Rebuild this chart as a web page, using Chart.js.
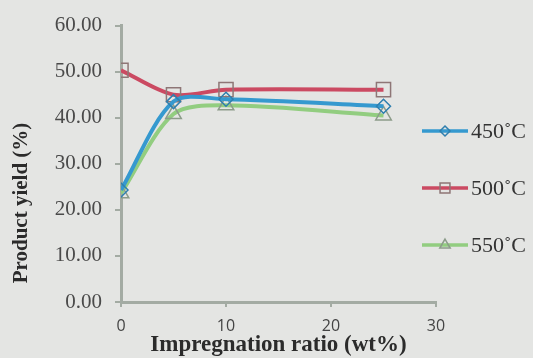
<!DOCTYPE html>
<html>
<head>
<meta charset="utf-8">
<script src="https://cdn.jsdelivr.net/npm/chart.js@4"></script>
<style>
  html, body { margin: 0; padding: 0; background: #e4e5e3; }
  #wrap { width: 533px; height: 358px; }
</style>
</head>
<body>
<div id="wrap"><canvas id="chart" width="533" height="358"></canvas></div>
<script>
// data
const ratios = [0, 5, 10, 25];
const seriesNames = ['450\u02DAC', '500\u02DAC', '550\u02DAC'];
const yield450 = [24.3, 43.5, 44.0, 42.5];
const yield500 = [50.3, 45.0, 46.1, 46.1];
const yield550 = [23.6, 40.8, 42.7, 40.5];
const yTicks = [0, 10, 20, 30, 40, 50, 60];
const xTicks = [0, 10, 20, 30];

const lineColors = ['#3599cf', '#cb4a62', '#92cd80'];
const markerColors = ['#2f7fae', '#8e7676', '#8c9c8a'];
const markerShapes = ['rectRot', 'rect', 'triangle'];
const markerSizes = [7, 10, 9];
const legendSizes = [5, 7, 6];

const seriesValues = [yield450, yield500, yield550];
const datasets = seriesValues.map((vals, i) => ({
  label: seriesNames[i],
  data: ratios.map((x, j) => ({ x: x, y: vals[j] })),
  borderColor: lineColors[i],
  borderWidth: 4,
  tension: 0.3,
  pointStyle: markerShapes[i],
  pointRadius: markerSizes[i],
  pointBorderColor: markerColors[i],
  pointBackgroundColor: 'rgba(0,0,0,0)',
  pointBorderWidth: 1.5,
  fill: false
}));

function drawMarker(ctx, shape, x, y, r) {
  ctx.beginPath();
  if (shape === 'rect') {
    const s = Math.SQRT1_2 * r;
    ctx.rect(x - s, y - s, 2 * s, 2 * s);
  } else if (shape === 'rectRot') {
    ctx.moveTo(x, y - r); ctx.lineTo(x + r, y); ctx.lineTo(x, y + r); ctx.lineTo(x - r, y); ctx.closePath();
  } else {
    ctx.moveTo(x, y - r); ctx.lineTo(x + r * 0.866, y + r / 2); ctx.lineTo(x - r * 0.866, y + r / 2); ctx.closePath();
  }
  ctx.stroke();
}

const extras = {
  id: 'extras',
  afterDraw(chart) {
    const ctx = chart.ctx;
    ctx.save();
    // y axis title
    ctx.translate(22, 203);
    ctx.rotate(-Math.PI / 2);
    ctx.font = 'bold 21px "Liberation Serif"';
    ctx.fillStyle = '#2b2b2b';
    ctx.textAlign = 'center';
    ctx.textBaseline = 'middle';
    ctx.fillText('Product yield (%)', 0, 0);
    ctx.restore();

    // legend on the right
    const rows = [131, 188, 245];
    ctx.save();
    seriesNames.forEach((name, i) => {
      const y = rows[i];
      ctx.strokeStyle = lineColors[i];
      ctx.lineWidth = 3.5;
      ctx.beginPath();
      ctx.moveTo(422, y);
      ctx.lineTo(468, y);
      ctx.stroke();
      ctx.strokeStyle = markerColors[i];
      ctx.lineWidth = 1.5;
      drawMarker(ctx, markerShapes[i], 445, y, legendSizes[i]);
      ctx.font = '22px "Liberation Serif"';
      ctx.fillStyle = '#333';
      ctx.textAlign = 'left';
      ctx.textBaseline = 'middle';
      ctx.fillText(name, 471, y + 1);
    });
    ctx.restore();
  }
};

new Chart(document.getElementById('chart'), {
  type: 'line',
  data: { datasets: datasets },
  plugins: [extras],
  options: {
    responsive: false,
    animation: false,
    layout: { padding: { left: 0, right: 97, top: 22, bottom: 0 } },
    plugins: { legend: { display: false }, tooltip: { enabled: false } },
    scales: {
      x: {
        type: 'linear',
        min: 0,
        max: 30,
        afterBuildTicks: s => { s.ticks = xTicks.map(v => ({ value: v })); },
        afterFit: s => { s.height = 56; },
        grid: { drawOnChartArea: false, color: '#a3aba3', tickLength: 5, lineWidth: 2 },
        border: { color: '#a3aba3', width: 3 },
        ticks: { color: '#444', padding: 10, maxRotation: 0, font: { family: '"Open Sans"', size: 16 } },
        title: {
          display: true,
          text: 'Impregnation ratio (wt%)',
          color: '#2b2b2b',
          padding: { top: 0, bottom: 0 },
          font: { family: '"Liberation Serif"', size: 23, weight: 'bold', lineHeight: 1.1 }
        }
      },
      y: {
        min: 0,
        max: 60,
        afterBuildTicks: s => { s.ticks = yTicks.map(v => ({ value: v })); },
        afterFit: s => { s.width = 121; },
        grid: { drawOnChartArea: false, color: '#a3aba3', tickLength: 6, lineWidth: 2 },
        border: { color: '#a3aba3', width: 3 },
        ticks: { color: '#4a4a4a', padding: 13, font: { family: '"Liberation Serif"', size: 21 }, callback: v => v.toFixed(2) }
      }
    }
  }
});
</script>
</body>
</html>
